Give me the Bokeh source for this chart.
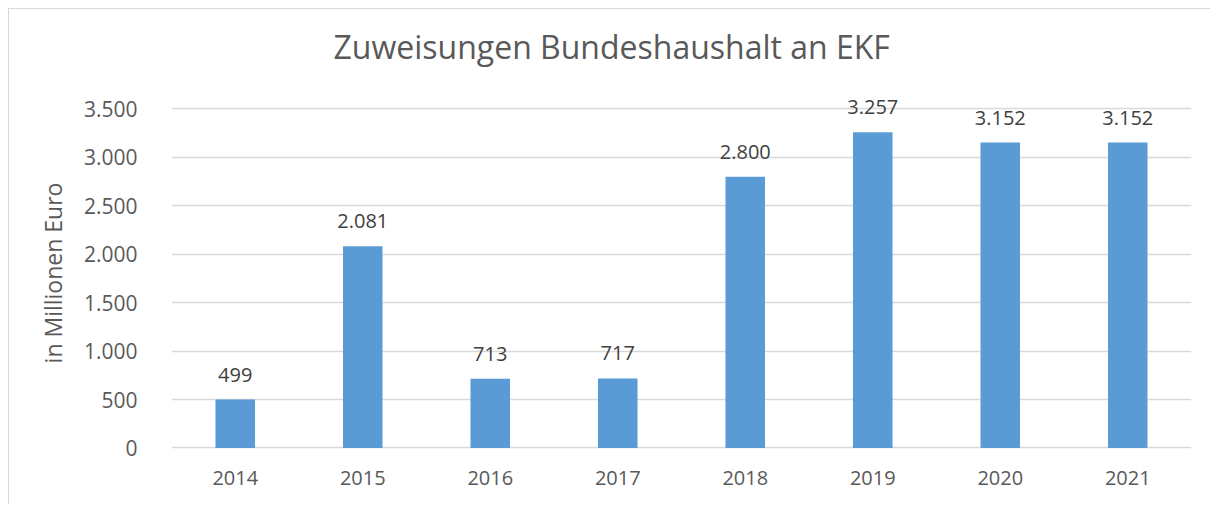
from bokeh.plotting import figure
from bokeh.models import ColumnDataSource, Range1d, FixedTicker, CustomJSTickFormatter, LabelSet
from bokeh.embed import file_html
from bokeh.resources import INLINE
from bokeh.core.properties import value

years = ["2014", "2015", "2016", "2017", "2018", "2019", "2020", "2021"]
amounts = [499, 2081, 713, 717, 2800, 3257, 3152, 3152]
labels = ["499", "2.081", "713", "717", "2.800", "3.257", "3.152", "3.152"]
y_ticks = [0, 500, 1000, 1500, 2000, 2500, 3000, 3500]

FONT = "Open Sans"
GREY = "#595959"

src = ColumnDataSource(dict(x=years, y=amounts, lab=labels))

p = figure(x_range=years, width=1202, height=496, output_backend="svg",
           toolbar_location=None, min_border_left=162, min_border_right=20,
           min_border_top=71, min_border_bottom=40)
p.styles = {"margin-left": "8px", "margin-top": "8px",
            "border-left": "1px solid #d9d9d9", "border-top": "1px solid #d9d9d9"}
# frame extended a little beyond the data so labels above the top bars are not clipped
p.y_range = Range1d(-181, 3792)
p.outline_line_color = None

p.vbar(x="x", top="y", bottom=0, width=0.31, source=src, fill_color="#5B9BD5", line_color=None)
p.add_layout(LabelSet(x="x", y="y", text="lab", source=src, text_align="center",
                      text_baseline="alphabetic", y_offset=18, text_font=value(FONT),
                      text_font_size="20px", text_color="#404040"))

p.title.text = "Zuweisungen Bundeshaushalt an EKF"
p.title.align = "left"
p.title.offset = 157
p.title.padding = 5
p.title.text_font = FONT
p.title.text_font_size = "32px"
p.title.text_font_style = "normal"
p.title.text_color = GREY
p.title.standoff = 15

p.xgrid.grid_line_color = None
p.ygrid.grid_line_color = "#d9d9d9"
p.ygrid.grid_line_width = 1.5

p.yaxis.ticker = FixedTicker(ticks=y_ticks)
p.yaxis.formatter = CustomJSTickFormatter(code="if (tick < 1000) { return String(tick); } return Math.floor(tick/1000) + '.' + String(tick % 1000).padStart(3, '0');")
for ax in (p.xaxis, p.yaxis):
    ax.axis_line_color = None
    ax.major_tick_line_color = None
    ax.minor_tick_line_color = None
    ax.major_tick_out = 0
    ax.major_tick_in = 0
    ax.major_label_text_font = FONT
    ax.major_label_text_color = GREY
p.yaxis.major_label_text_font_size = "21px"
p.xaxis.major_label_text_font_size = "20px"
p.yaxis.major_label_standoff = 34
p.xaxis.major_label_standoff = 5
p.yaxis.axis_label = "in Millionen Euro"
p.yaxis.axis_label_text_font = FONT
p.yaxis.axis_label_text_font_size = "23px"
p.yaxis.axis_label_text_font_style = "normal"
p.yaxis.axis_label_text_color = GREY
p.yaxis.axis_label_standoff = 12

open("out.html", "w").write(file_html(p, INLINE))
